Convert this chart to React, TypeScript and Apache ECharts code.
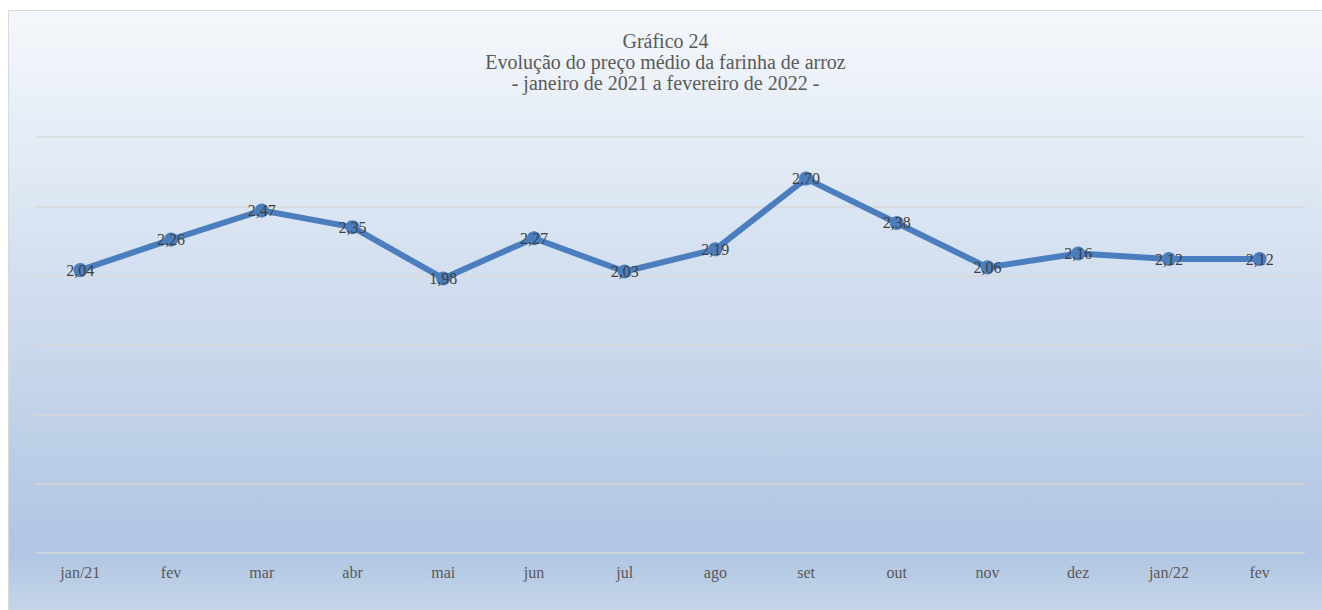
import React, { useEffect, useRef } from "react";
import * as echarts from "echarts";

const categories = ["jan/21", "fev", "mar", "abr", "mai", "jun", "jul", "ago", "set", "out", "nov", "dez", "jan/22", "fev"];
const prices = [2.04, 2.26, 2.47, 2.35, 1.98, 2.27, 2.03, 2.19, 2.70, 2.38, 2.06, 2.16, 2.12, 2.12];
const titleLines = ["Gráfico 24", "Evolução do preço médio da farinha de arroz", "- janeiro de 2021 a fevereiro de 2022 -"];

const FONT = "Liberation Serif";

export default function App() {
  const ref = useRef<HTMLDivElement>(null);
  useEffect(() => {
    if (!ref.current) return;
    const chart = echarts.init(ref.current, undefined, { renderer: "svg" });
    chart.setOption({
      animation: false,
      backgroundColor: new echarts.graphic.LinearGradient(0, 0, 0, 1, [
        { offset: 0, color: "#f5f8fc" },
        { offset: 0.9, color: "#afc5e2" },
        { offset: 1, color: "#c5d5ea" },
      ]),
      title: {
        text: titleLines.join("\n"),
        left: "center",
        top: 14,
        textStyle: { fontFamily: FONT, fontSize: 20, fontWeight: "normal", color: "#595959", lineHeight: 21 },
      },
      grid: { left: 26, right: 17, top: 126, bottom: 57 },
      xAxis: {
        type: "category",
        data: categories,
        boundaryGap: true,
        axisLine: { show: false },
        axisTick: { show: false },
        axisLabel: { fontFamily: FONT, fontSize: 16, color: "#595959", margin: 11 },
      },
      yAxis: {
        type: "value",
        min: 0,
        max: 3,
        interval: 0.5,
        axisLabel: { show: false },
        axisLine: { show: false },
        axisTick: { show: false },
        splitLine: { lineStyle: { color: "#d9d9d9", width: 1.5 } },
      },
      series: [
        {
          type: "line",
          data: prices,
          symbol: "circle",
          symbolSize: 14,
          lineStyle: { color: "#4a7ebf", width: 6 },
          itemStyle: { color: "#4a7ebf" },
          label: {
            show: true,
            position: "inside",
            fontFamily: FONT,
            fontSize: 16,
            color: "#404040",
            formatter: (p: any) => Number(p.value).toFixed(2).replace(".", ","),
          },
        },
      ],
    });
    return () => chart.dispose();
  }, []);
  return (
    <div
      style={{
        position: "fixed",
        left: 8,
        top: 10,
        width: 1314,
        height: 600,
        borderTop: "1px solid #d9d9d9",
        borderLeft: "1px solid #d9d9d9",
        boxSizing: "border-box",
      }}
    >
      <div ref={ref} style={{ width: "100%", height: "100%" }} />
    </div>
  );
}
